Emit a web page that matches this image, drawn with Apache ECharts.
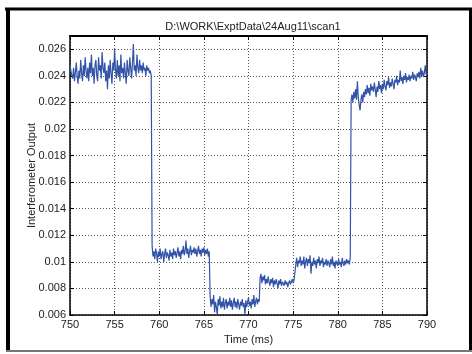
<!DOCTYPE html>
<html><head><meta charset="utf-8">
<script src="https://cdn.jsdelivr.net/npm/echarts@6/dist/echarts.min.js"></script>
<style>html,body{margin:0;padding:0;background:#fff}#c{width:472px;height:354px}</style>
</head><body><div id="c"></div>
<script>
// Sampling period (ms) of the recorded trace
var sampleStep = 0.1;
// Trace segments: start time (ms) and sampled interferometer output
var seg1Start = 750.0;
var seg1 = [0.0248,0.0244,0.0240,0.0238,0.0246,0.0236,0.0242,0.0250,0.0240,0.0234,
0.0244,0.0238,0.0252,0.0242,0.0236,0.0248,0.0240,0.0254,0.0244,0.0238,
0.0246,0.0236,0.0250,0.0242,0.0256,0.0240,0.0246,0.0234,0.0248,0.0252,
0.0240,0.0236,0.0254,0.0244,0.0248,0.0238,0.0258,0.0246,0.0242,0.0250,
0.0236,0.0244,0.0230,0.0248,0.0238,0.0252,0.0242,0.0234,0.0250,0.0244,
0.0260,0.0244,0.0238,0.0252,0.0240,0.0248,0.0236,0.0256,0.0242,0.0246,
0.0238,0.0250,0.0242,0.0234,0.0252,0.0244,0.0240,0.0254,0.0246,0.0238,
0.0250,0.0264,0.0244,0.0248,0.0240,0.0256,0.0246,0.0242,0.0252,0.0244,
0.0248,0.0242,0.0250,0.0244,0.0246,0.0240,0.0248,0.0244,0.0246,0.0242,
0.0244,0.0240];
var seg2Start = 759.2;
var seg2 = [0.0112,0.0104,0.0108,0.0102,0.0110,0.0106,0.0100,0.0108,
0.0104,0.0110,0.0102,0.0106,0.0108,0.0100,0.0106,0.0110,0.0103,0.0107,
0.0105,0.0101,0.0109,0.0104,0.0107,0.0102,0.0110,0.0105,0.0108,0.0103,
0.0107,0.0111,0.0104,0.0108,0.0102,0.0109,0.0106,0.0112,0.0105,0.0108,
0.0116,0.0106,0.0110,0.0103,0.0108,0.0112,0.0105,0.0109,0.0107,0.0111,
0.0106,0.0110,0.0104,0.0108,0.0112,0.0106,0.0109,0.0104,0.0110,0.0107,
0.0111,0.0105,0.0109,0.0106,0.0110,0.0104,0.0108];
var seg3Start = 765.7;
var seg3 = [0.0074,0.0066,0.0072,
0.0068,0.0075,0.0062,0.0070,0.0066,0.0060,0.0072,0.0067,0.0074,0.0065,
0.0070,0.0066,0.0073,0.0064,0.0069,0.0072,0.0065,0.0070,0.0067,0.0073,
0.0066,0.0071,0.0064,0.0069,0.0073,0.0066,0.0070,0.0065,0.0072,0.0068,
0.0064,0.0070,0.0067,0.0072,0.0066,0.0069,0.0060,0.0071,0.0066,0.0070,
0.0073,0.0067,0.0070,0.0065,0.0072,0.0068,0.0075,0.0066,0.0070,0.0073,
0.0068,0.0072,0.0070];
var seg4Start = 771.3;
var seg4 = [0.0088,0.0091,0.0084,0.0089,0.0086,0.0090,0.0083,
0.0087,0.0084,0.0089,0.0085,0.0082,0.0087,0.0084,0.0088,0.0081,0.0086,
0.0083,0.0087,0.0084,0.0080,0.0086,0.0083,0.0087,0.0082,0.0085,0.0084,
0.0082,0.0086,0.0083,0.0085,0.0081,0.0084,0.0086,0.0083,0.0085,0.0087,
0.0084,0.0086,0.0085];
var seg5Start = 775.3;
var seg5 = [0.0098,0.0103,0.0096,0.0101,0.0099,0.0104,0.0097,
0.0101,0.0098,0.0104,0.0095,0.0100,0.0103,0.0097,0.0102,0.0099,0.0105,
0.0091,0.0100,0.0097,0.0103,0.0098,0.0101,0.0095,0.0102,0.0099,0.0104,
0.0097,0.0101,0.0099,0.0103,0.0096,0.0100,0.0098,0.0102,0.0097,0.0101,
0.0099,0.0096,0.0102,0.0098,0.0104,0.0097,0.0100,0.0095,0.0101,0.0099,
0.0097,0.0102,0.0098,0.0100,0.0096,0.0103,0.0099,0.0097,0.0101,0.0098,
0.0102,0.0099,0.0101,0.0098,0.0103];
var seg6Start = 781.5;
var seg6 = [0.0222,0.0226,0.0220,0.0228,0.0223,
0.0230,0.0222,0.0236,0.0224,0.0218,0.0214,0.0222,0.0226,0.0220,0.0228,
0.0224,0.0230,0.0226,0.0233,0.0227,0.0231,0.0225,0.0234,0.0229,0.0232,
0.0228,0.0235,0.0230,0.0224,0.0232,0.0228,0.0236,0.0230,0.0233,0.0227,
0.0234,0.0230,0.0237,0.0232,0.0229,0.0236,0.0233,0.0239,0.0231,0.0235,
0.0232,0.0238,0.0234,0.0230,0.0237,0.0235,0.0240,0.0233,0.0237,0.0235,
0.0244,0.0236,0.0239,0.0234,0.0240,0.0237,0.0242,0.0235,0.0239,0.0237,
0.0241,0.0236,0.0240,0.0238,0.0243,0.0237,0.0241,0.0239,0.0236,0.0242,
0.0239,0.0243,0.0238,0.0246,0.0240,0.0244,0.0239,0.0242,0.0248,0.0241,
0.0243];
var segments = [[seg1Start,seg1],[seg2Start,seg2],[seg3Start,seg3],[seg4Start,seg4],[seg5Start,seg5],[seg6Start,seg6]];

var titleText = 'D:\\WORK\\ExptData\\24Aug11\\scan1';
var xName = 'Time (ms)';
var yName = 'Interferometer Output';
var xMin = 750, xMax = 790, xStep = 5;
var yMin = 0.006, yMax = 0.027, yStep = 0.002;
var yTicks = [0.006,0.008,0.010,0.012,0.014,0.016,0.018,0.020,0.022,0.024,0.026];

var pts = [];
segments.forEach(function (s) {
  s[1].forEach(function (v, i) {
    pts.push([Math.round((s[0] + i * sampleStep) * 1000) / 1000, v]);
  });
});

var FONT = '"Liberation Sans", Arial, sans-serif';
var grid = {left: 70, top: 36, right: 45, bottom: 39};
var split = {show: true, lineStyle: {color: '#555', width: 1, type: [1, 2]}};
var chart = echarts.init(document.getElementById('c'), null, {renderer: 'canvas'});
chart.setOption({
  animation: false,
  backgroundColor: '#fff',
  title: {text: titleText, left: 248, top: 16, textAlign: 'center',
    textStyle: {fontFamily: FONT, fontSize: 11, fontWeight: 'normal', color: '#222'}},
  grid: grid,
  xAxis: [{
    type: 'value', min: xMin, max: xMax, interval: xStep, position: 'bottom',
    name: xName, nameLocation: 'middle', nameGap: 19, nameMoveOverlap: false,
    nameTextStyle: {fontFamily: FONT, fontSize: 11, color: '#222'},
    axisLine: {lineStyle: {color: '#000', width: 1.5}},
    axisTick: {inside: true, length: 4, lineStyle: {color: '#000'}},
    axisLabel: {fontFamily: FONT, fontSize: 11, color: '#222', margin: 4},
    splitLine: split
  }, {
    type: 'value', min: xMin, max: xMax, interval: xStep, position: 'top',
    axisLine: {lineStyle: {color: '#000', width: 2}},
    axisTick: {inside: true, length: 4, lineStyle: {color: '#000'}},
    axisLabel: {show: false}, splitLine: {show: false}
  }],
  yAxis: [{
    type: 'value', min: yMin, max: yMax, interval: yStep, position: 'left',
    name: yName, nameLocation: 'middle', nameGap: 33, nameRotate: 90, nameMoveOverlap: false,
    nameTextStyle: {fontFamily: FONT, fontSize: 11, color: '#222'},
    axisLine: {show: true, lineStyle: {color: '#000', width: 1.5}},
    axisTick: {show: true, inside: true, length: 4, lineStyle: {color: '#000'}, customValues: yTicks},
    axisLabel: {fontFamily: FONT, fontSize: 11, color: '#222', margin: 4, showMaxLabel: false,
      formatter: function (v) { return String(+v.toFixed(3)); }},
    splitLine: split
  }, {
    type: 'value', min: yMin, max: yMax, interval: yStep, position: 'right',
    axisLine: {show: true, lineStyle: {color: '#000', width: 1.5}},
    axisTick: {show: true, inside: true, length: 4, lineStyle: {color: '#000'}, customValues: yTicks},
    axisLabel: {show: false}, splitLine: {show: false}
  }],
  series: [{
    type: 'line', data: pts, xAxisIndex: 0, yAxisIndex: 0,
    showSymbol: false, symbol: 'none',
    lineStyle: {color: '#3353a8', width: 1.2}
  }],
  graphic: [
    {type: 'line', shape: {x1: 5, y1: 9, x2: 472, y2: 9}, style: {stroke: '#000', lineWidth: 3}},
    {type: 'line', shape: {x1: 8, y1: 8, x2: 8, y2: 352}, style: {stroke: '#000', lineWidth: 4}},
    {type: 'line', shape: {x1: 470.5, y1: 8, x2: 470.5, y2: 352}, style: {stroke: '#000', lineWidth: 3}},
    {type: 'line', shape: {x1: 6, y1: 351, x2: 472, y2: 351}, style: {stroke: '#777', lineWidth: 2}}
  ]
});
</script></body></html>
